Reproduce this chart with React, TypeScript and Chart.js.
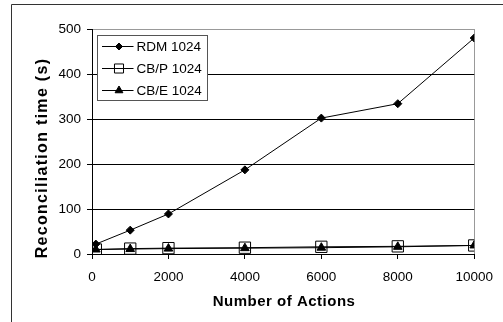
import React, { useEffect, useRef } from "react";
import { Chart, registerables } from "chart.js";

Chart.register(...registerables);

const actions = [100, 1000, 2000, 4000, 6000, 8000, 10000];
const rdm1024 = [22, 53, 89, 187, 302, 334, 480];
const cbp1024 = [10, 12, 13, 14, 16, 17, 19];
const cbe1024 = [10, 11, 12, 13, 14, 16, 19];
const seriesLabels = ["RDM 1024", "CB/P 1024", "CB/E 1024"];
const xTitle = "Number of Actions";
const yTitle = "Reconciliation time (s)";

const FONT = "'Liberation Sans', Arial, sans-serif";

const framePlugin = {
  id: "frame",
  beforeDraw(chart: any) {
    const ctx = chart.ctx;
    ctx.save();
    ctx.fillStyle = "#fff";
    ctx.fillRect(0, 0, chart.width, chart.height);
    ctx.strokeStyle = "#333";
    ctx.lineWidth = 1;
    ctx.beginPath();
    ctx.moveTo(11.5, chart.height + 5);
    ctx.lineTo(11.5, 4.5);
    ctx.lineTo(chart.width + 5, 4.5);
    ctx.stroke();
    ctx.restore();
  },
};

const titlesPlugin = {
  id: "axisTitles",
  afterDraw(chart: any) {
    const ctx = chart.ctx;
    const area = chart.chartArea;
    ctx.save();
    ctx.fillStyle = "#000";
    ctx.textAlign = "center";
    ctx.textBaseline = "middle";
    (ctx as any).letterSpacing = "0.5px";
    ctx.font = "bold 15px " + FONT;
    ctx.fillText(xTitle, (area.left + area.right) / 2 + 1, 302);
    ctx.restore();

    ctx.save();
    ctx.fillStyle = "#000";
    ctx.textAlign = "center";
    ctx.textBaseline = "middle";
    (ctx as any).letterSpacing = "1.3px";
    ctx.font = "bold 16px " + FONT;
    ctx.translate(43, 158);
    ctx.rotate(-Math.PI / 2);
    ctx.fillText(yTitle, 0, 0);
    ctx.restore();
  },
};

const legendMarkerRadius: Record<string, number> = { rectRot: 3.5, rect: 6.4, triangle: 4.5 };

const boxLegendPlugin = {
  id: "boxLegend",
  afterDraw(chart: any) {
    const ctx = chart.ctx;
    const area = chart.chartArea;
    const x0 = area.left + 5.5;
    const y0 = area.top + 6.5;
    const w = 110;
    const h = 65;
    ctx.save();
    ctx.fillStyle = "#fff";
    ctx.fillRect(x0, y0, w, h);
    ctx.strokeStyle = "#555";
    ctx.lineWidth = 1;
    ctx.strokeRect(x0, y0, w, h);
    ctx.font = "13.5px " + FONT;
    ctx.textBaseline = "middle";
    ctx.textAlign = "left";
    const rowYs = [10.5, 32.5, 54.5];
    chart.data.datasets.forEach((ds: any, i: number) => {
      const cy = Math.round(y0 + rowYs[i]) + 0.5;
      ctx.strokeStyle = "#000";
      ctx.lineWidth = 1;
      ctx.beginPath();
      ctx.moveTo(x0 + 4.5, cy);
      ctx.lineTo(x0 + 36, cy);
      ctx.stroke();
      drawMarker(ctx, ds.pointStyle, legendMarkerRadius[ds.pointStyle], x0 + 21.5, cy, ds.pointStyle === "rect" ? "#fff" : "#000");
      ctx.fillStyle = "#000";
      ctx.fillText(ds.label, x0 + 39, cy + 0.5);
    });
    ctx.restore();
  },
};

function drawMarker(ctx: any, style: string, r: number, x: number, y: number, fill: string) {
  ctx.save();
  ctx.beginPath();
  if (style === "rectRot") {
    ctx.moveTo(x, y - r);
    ctx.lineTo(x + r, y);
    ctx.lineTo(x, y + r);
    ctx.lineTo(x - r, y);
    ctx.closePath();
  } else if (style === "rect") {
    const s = r * Math.SQRT1_2;
    ctx.rect(x - s, y - s, 2 * s, 2 * s);
  } else if (style === "triangle") {
    ctx.moveTo(x, y - r);
    ctx.lineTo(x + r * Math.cos(Math.PI / 6), y + r / 2);
    ctx.lineTo(x - r * Math.cos(Math.PI / 6), y + r / 2);
    ctx.closePath();
  }
  ctx.fillStyle = fill;
  ctx.fill();
  if (style === "rect") {
    ctx.stroke();
    ctx.beginPath();
    ctx.moveTo(x - r * Math.SQRT1_2, y);
    ctx.lineTo(x + r * Math.SQRT1_2, y);
  }
  ctx.strokeStyle = "#000";
  ctx.lineWidth = 1;
  ctx.stroke();
  ctx.restore();
}

export default function App() {
  const ref = useRef<HTMLCanvasElement>(null);
  useEffect(() => {
    if (!ref.current) return;
    const toPts = (ys: number[]) => actions.map((x, i) => ({ x, y: ys[i] }));
    const chart = new Chart(ref.current, {
      type: "line",
      data: {
        datasets: [
          {
            label: seriesLabels[0],
            data: toPts(rdm1024),
            borderColor: "#000",
            borderWidth: 1,
            pointStyle: "rectRot",
            pointRadius: 4,
            pointBackgroundColor: "#000",
            pointBorderColor: "#000",
            pointBorderWidth: 1,
          },
          {
            label: seriesLabels[1],
            data: toPts(cbp1024),
            borderColor: "#000",
            borderWidth: 1,
            pointStyle: "rect",
            pointRadius: 8,
            pointBackgroundColor: "rgba(0,0,0,0)",
            pointBorderColor: "#000",
            pointBorderWidth: 1,
          },
          {
            label: seriesLabels[2],
            data: toPts(cbe1024),
            borderColor: "#000",
            borderWidth: 1,
            pointStyle: "triangle",
            pointRadius: 5,
            pointBackgroundColor: "#000",
            pointBorderColor: "#000",
            pointBorderWidth: 1,
          },
        ] as any,
      },
      options: {
        responsive: false,
        animation: false,
        events: [],
        layout: { padding: { left: 0, top: 29, right: 21, bottom: 0 } },
        plugins: { legend: { display: false }, tooltip: { enabled: false } },
        scales: {
          x: {
            type: "linear",
            min: 0,
            max: 10000,
            afterFit: (s: any) => {
              s.height = 68;
            },
            ticks: {
              stepSize: 2000,
              color: "#000",
              padding: 10,
              maxRotation: 0,
              font: { family: FONT, size: 13.5 },
              callback: (v: any) => String(v),
            },
            grid: {
              drawOnChartArea: true,
              color: (c: any) => (c.tick && c.tick.value === 10000 ? "#999" : "rgba(0,0,0,0)"),
              tickColor: "#000",
              tickLength: 5,
            },
            border: { color: "#000", width: 1 },
            title: { display: false },
          },
          y: {
            min: 0,
            max: 500,
            afterFit: (s: any) => {
              s.width = 92;
            },
            ticks: {
              stepSize: 100,
              color: "#000",
              padding: 6,
              font: { family: FONT, size: 13.5 },
            },
            grid: {
              color: (c: any) => (c.tick && c.tick.value === 500 ? "#999" : "#000"),
              tickColor: "#000",
              tickLength: 5,
            },
            border: { color: "#000", width: 1 },
            title: { display: false },
          },
        },
      },
      plugins: [framePlugin, boxLegendPlugin, titlesPlugin],
    });
    return () => chart.destroy();
  }, []);
  return (
    <div style={{ position: "absolute", left: 0, top: 0, width: 503, height: 322 }}>
      <canvas ref={ref} width={503} height={322} style={{ display: "block" }} />
    </div>
  );
}
